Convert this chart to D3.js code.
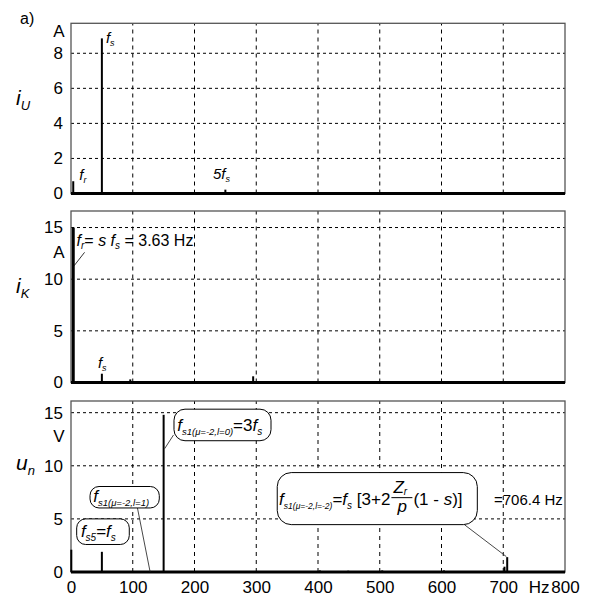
<!DOCTYPE html>
<html><head><meta charset="utf-8">
<script src="https://cdn.jsdelivr.net/npm/d3@7"></script>
<style>
html,body{margin:0;padding:0;background:#fff;}
svg{display:block;}
text{font-family:"Liberation Sans",Arial,sans-serif;fill:#000;}
</style></head>
<body>
<svg id="c" width="591" height="597"></svg>
<script>
// ---- data ----
const freqTicks = [0,100,200,300,400,500,600,700,800];
const iU_ticks = [0,2,4,6,8];
const iK_ticks = [0,5,10,15];
const un_ticks = [0,5,10,15];
const iU_freq = [3.63, 50, 250];
const iU_amp  = [0.7, 8.85, 0.22];
const iK_freq = [3.63, 50, 96, 295];
const iK_amp  = [15.0, 0.85, 0.3, 0.6];
const un_freq = [0.5, 50, 128, 150, 403, 449, 504, 604, 702, 706.4];
const un_amp  = [2.1, 1.9, 0.1, 14.8, 0.15, 0.12, 0.15, 0.15, 0.5, 1.4];

const svg = d3.select("#c");
const x = d3.scaleLinear().domain([0,800]).range([71,565]);

const panels = [
  {top:23.3, zero:193.5, max:9.71, ticks:iU_ticks, f:iU_freq, a:iU_amp, sym:"i", sub:"U", unit:"A", unitVal:9.3, labY:9.71*0.52},
  {top:211, zero:382.5, max:16.6, ticks:iK_ticks, f:iK_freq, a:iK_amp, sym:"i", sub:"K", unit:"A", unitVal:12.6, labY:8.7},
  {top:401, zero:572, max:16.1, ticks:un_ticks, f:un_freq, a:un_amp, sym:"u", sub:"n", unit:"V", unitVal:12.8, labY:9.6}
];

function rich(g, px, py, segs, anchor){
  const t = g.append("text").attr("x",px).attr("y",py).attr("text-anchor",anchor||"start");
  segs.forEach(s=>{
    const sp = t.append("tspan").text(s.t)
      .attr("font-size", s.size || 16)
      .attr("font-style", s.it ? "italic" : "normal");
    if (s.dy) sp.attr("dy", s.dy);
    if (s.dx) sp.attr("dx", s.dx);
  });
  return t;
}

panels.forEach((p,i)=>{
  const y = d3.scaleLinear().domain([0,p.max]).range([p.zero,p.top]);
  p.y = y;
  const g = svg.append("g");
  g.selectAll(".vg").data(freqTicks.slice(1,-1)).join("line")
    .attr("x1",d=>x(d)).attr("x2",d=>x(d)).attr("y1",y(0)).attr("y2",p.top)
    .attr("stroke","#000").attr("stroke-width",1).attr("stroke-dasharray","4,4");
  g.selectAll(".hg").data(p.ticks.slice(1)).join("line")
    .attr("x1",x(0)).attr("x2",x(800)).attr("y1",d=>y(d)).attr("y2",d=>y(d))
    .attr("stroke","#000").attr("stroke-width",1).attr("stroke-dasharray","3,3");
  g.append("rect").attr("x",x(0)).attr("y",p.top).attr("width",x(800)-x(0)).attr("height",y(0)-p.top)
    .attr("fill","none").attr("stroke","#555").attr("stroke-width",1.3);
  const ya = d3.axisLeft(y).tickValues(p.ticks).tickSize(0).tickPadding(8);
  const ag = g.append("g").attr("transform",`translate(${x(0)},0)`).call(ya);
  ag.select(".domain").remove();
  ag.selectAll("text").attr("font-size",17).attr("font-family","Liberation Sans, Arial, sans-serif").attr("fill","#000");
  g.append("text").attr("x",59).attr("y",y(p.unitVal)).attr("dy","0.36em").attr("text-anchor","middle")
    .attr("font-size",17).text(p.unit);
  rich(g, 16, y(p.labY), [{t:p.sym,it:true,size:21},{t:p.sub,it:true,size:13,dy:5}]);
  g.append("line").attr("x1",x(0)).attr("x2",x(800)).attr("y1",y(0)).attr("y2",y(0))
    .attr("stroke","#000").attr("stroke-width",3);
  g.selectAll(".bar").data(p.f.map((f,k)=>({f,a:p.a[k]}))).join("line")
    .attr("x1",d=>x(d.f)).attr("x2",d=>x(d.f)).attr("y1",y(0)).attr("y2",d=>y(d.a))
    .attr("stroke","#000").attr("stroke-width",(d)=> (i===1 && d.a>10) ? 3 : 2);
});

const p3 = panels[2];
const xa = d3.axisBottom(x).tickValues(freqTicks).tickSize(0).tickPadding(9);
const xg = svg.append("g").attr("transform",`translate(0,${p3.zero})`).call(xa);
xg.select(".domain").remove();
xg.selectAll("text").attr("font-size",17).attr("font-family","Liberation Sans, Arial, sans-serif").attr("fill","#000");
svg.append("text").attr("x",(x(700)+x(800))/2+5).attr("y",p3.zero+21).attr("text-anchor","middle")
  .attr("font-size",17).text("Hz");

svg.append("text").attr("x",20).attr("y",24).attr("font-size",16).text("a)");

// top panel annotations
const y1 = panels[0].y;
rich(svg, x(50)+4, y1(8.6), [{t:"f",it:true,size:15},{t:"s",it:true,size:9,dy:3}]);
rich(svg, x(3.63)+6, y1(0.75), [{t:"f",it:true,size:15},{t:"r",it:true,size:9,dy:3}]);
rich(svg, x(230), y1(0.8), [{t:"5",it:true,size:15},{t:"f",it:true,size:15},{t:"s",it:true,size:9,dy:3}]);

// middle panel annotations
const y2 = panels[1].y;
rich(svg, x(9), y2(13.2), [{t:"f",it:true,size:16},{t:"r",it:true,size:10,dy:3},
  {t:"= ",size:16,dy:-3},{t:"s",it:true,size:16},{t:" f",it:true,size:16},{t:"s",it:true,size:10,dy:3},
  {t:" = 3.63 Hz",size:16,dy:-3}]);
svg.append("line").attr("x1",x(22)).attr("y1",y2(12.6)).attr("x2",x(5)).attr("y2",y2(11.3))
  .attr("stroke","#000").attr("stroke-width",0.8);
rich(svg, x(50)-4, y2(1.4), [{t:"f",it:true,size:15},{t:"s",it:true,size:9,dy:3}]);

// bottom panel annotation boxes
const y3 = p3.y;
function box(x0,x1,v0,v1,r){
  svg.append("rect").attr("x",x(x0)).attr("y",y3(v0)).attr("width",x(x1)-x(x0)).attr("height",y3(v1)-y3(v0))
    .attr("rx",r).attr("ry",r).attr("fill","#fff").attr("stroke","#000").attr("stroke-width",1);
}
function pointer(f0,v0,f1,v1){
  svg.append("line").attr("x1",x(f0)).attr("y1",y3(v0)).attr("x2",x(f1)).attr("y2",y3(v1))
    .attr("stroke","#333").attr("stroke-width",0.9);
}
pointer(166, 12.9, 151.5, 11.6);
box(166.8, 323.9, 15.33, 12.36, 11);
rich(svg, x(172), y3(13.3), [{t:"f",it:true,size:17},{t:"s1(μ=-2,l=0)",it:true,size:9.5,dy:4},
  {t:"=3",size:17,dy:-4},{t:"f",it:true,size:17},{t:"s",it:true,size:10,dy:4}]);
pointer(106, 6.5, 128, 0.05);
box(30.8, 143, 8.05, 6.03, 9);
rich(svg, x(36), y3(6.6), [{t:"f",it:true,size:17},{t:"s1(μ=-2,l=1)",it:true,size:9.5,dy:4}]);
box(9.2, 94.4, 5.0, 2.59, 9);
rich(svg, x(16), y3(3.3), [{t:"f",it:true,size:17},{t:"s5",it:true,size:10,dy:4},
  {t:"=",size:17,dy:-4},{t:"f",it:true,size:17},{t:"s",it:true,size:10,dy:4}]);
pointer(637, 4.46, 705, 1.45);
box(334, 658, 9.36, 4.46, 14);
const t1 = rich(svg, x(337), y3(6.3), [{t:"f",it:true,size:17},{t:"s1(μ=-2,l=-2)",it:true,size:8.5,dy:4},
  {t:"=",size:17,dy:-4},{t:"f",it:true,size:17},{t:"s",it:true,size:10,dy:4},
  {t:" [3+2",size:17,dy:-4}]);
const bb = t1.node().getBBox();
const fx0 = bb.x + bb.width + 1, fx1 = fx0 + 21;
const fy = y3(7.0);
svg.append("line").attr("x1",fx0).attr("x2",fx1).attr("y1",fy).attr("y2",fy).attr("stroke","#000").attr("stroke-width",1);
rich(svg, fx0+2, fy-5, [{t:"Z",it:true,size:17},{t:"r",it:true,size:10,dy:2}]);
rich(svg, fx0+6, fy+14, [{t:"p",it:true,size:17}]);
rich(svg, fx1+1, y3(6.3), [{t:"(1 - ",size:17},{t:"s",it:true,size:17},{t:")]",size:17}]);
svg.append("text").attr("x",x(685)).attr("y",y3(6.3)).attr("font-size",15).text("=706.4 Hz");
</script>
</body></html>
